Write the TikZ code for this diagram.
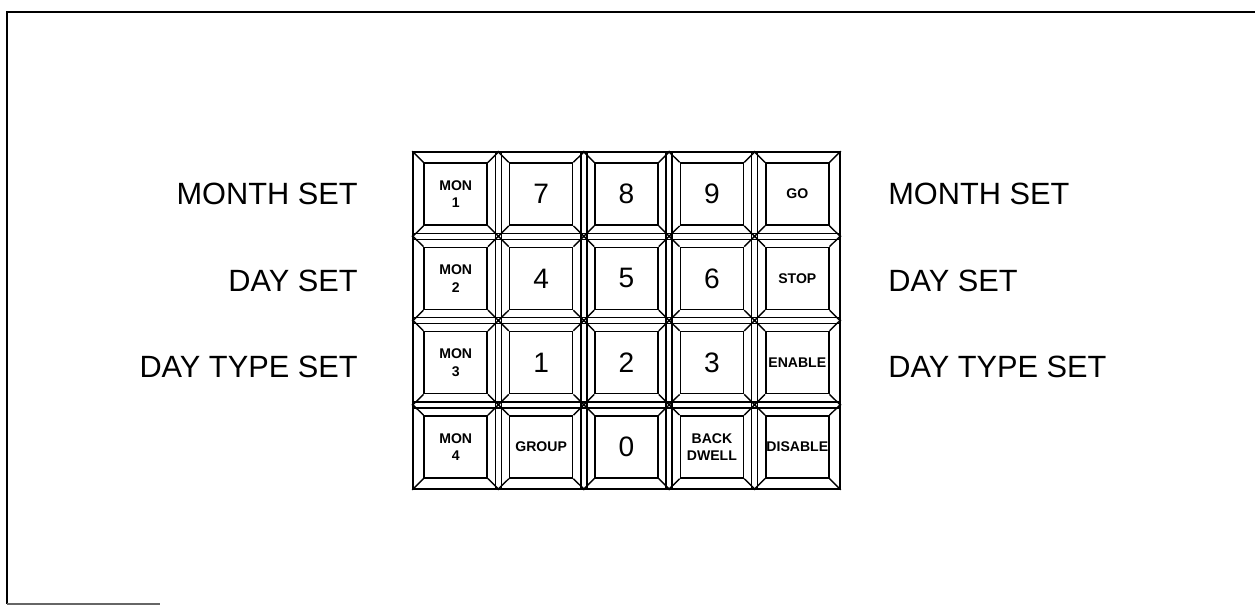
\documentclass[tikz,border=0pt]{standalone}
\usepackage{fontspec}
\setmainfont{Liberation Sans}
\begin{document}
\begin{tikzpicture}[x=0.02cm, y=-0.02cm,
    keyface/.style={draw, line width=0.9pt, minimum width=1.26cm, minimum height=1.24cm, inner sep=0pt, align=center, font=\fontsize{16}{16}\selectfont},
    smallkey/.style={font=\bfseries\fontsize{8}{10}\selectfont},
    setlabel/.style={inner sep=0pt, font=\fontsize{17.5}{17.5}\selectfont},
]
    \useasboundingbox (0,0) rectangle (1255,606);
    % open frame
    \draw[line width=1.6pt] (1255,12) -- (7,12) -- (7,604);
    \draw[line width=0.8pt, black!60] (7,604) -- (160,604);

    % keypad outline and double grid lines
    \draw[line width=1.4pt] (413,152) rectangle (840,489);
    \foreach \gx in {498.4,583.8,669.2,754.6}
        \draw[line width=0.9pt] (\gx-3,152) -- (\gx-3,489) (\gx+3,152) -- (\gx+3,489);
    \foreach \gy in {236.3,320.5,404.8}
        \draw[line width=0.9pt] (413,\gy-3) -- (840,\gy-3) (413,\gy+3) -- (840,\gy+3);

    % keys
    \node[keyface, smallkey] (mon1) at (455.7,194.1) {MON\\1};
    \node[keyface] (k7) at (541.1,194.1) {7};
    \node[keyface] (k8) at (626.5,194.1) {8};
    \node[keyface] (k9) at (711.9,194.1) {9};
    \node[keyface, smallkey] (go) at (797.3,194.1) {GO};

    \node[keyface, smallkey] (mon2) at (455.7,278.4) {MON\\2};
    \node[keyface] (k4) at (541.1,278.4) {4};
    \node[keyface] (k5) at (626.5,278.4) {5};
    \node[keyface] (k6) at (711.9,278.4) {6};
    \node[keyface, smallkey] (stop) at (797.3,278.4) {STOP};

    \node[keyface, smallkey] (mon3) at (455.7,362.6) {MON\\3};
    \node[keyface] (k1) at (541.1,362.6) {1};
    \node[keyface] (k2) at (626.5,362.6) {2};
    \node[keyface] (k3) at (711.9,362.6) {3};
    \node[keyface, smallkey] (enable) at (797.3,362.6) {ENABLE};

    \node[keyface, smallkey] (mon4) at (455.7,446.9) {MON\\4};
    \node[keyface, smallkey] (group) at (541.1,446.9) {GROUP};
    \node[keyface] (k0) at (626.5,446.9) {0};
    \node[keyface, smallkey] (back) at (711.9,446.9) {BACK\\DWELL};
    \node[keyface, smallkey] (disable) at (797.3,446.9) {DISABLE};

    % bevel corners
    \foreach \n in {mon1,k7,k8,k9,go,mon2,k4,k5,k6,stop,mon3,k1,k2,k3,enable,mon4,group,k0,back,disable} {
        \draw[line width=0.8pt] (\n.north west) -- ++(-11.2,-11.1);
        \draw[line width=0.8pt] (\n.north east) -- ++(11.2,-11.1);
        \draw[line width=0.8pt] (\n.south west) -- ++(-11.2,11.1);
        \draw[line width=0.8pt] (\n.south east) -- ++(11.2,11.1);
    }

    % side labels
    \node[setlabel, anchor=east] (lmonth) at (358,194) {MONTH SET};
    \node[setlabel, anchor=east] (lday) at (358,281) {DAY SET};
    \node[setlabel, anchor=east] (ltype) at (358,367) {DAY TYPE SET};
    \node[setlabel, anchor=west] (rmonth) at (888,194) {MONTH SET};
    \node[setlabel, anchor=west] (rday) at (888,281) {DAY SET};
    \node[setlabel, anchor=west] (rtype) at (888,367) {DAY TYPE SET};
\end{tikzpicture}
\end{document}
